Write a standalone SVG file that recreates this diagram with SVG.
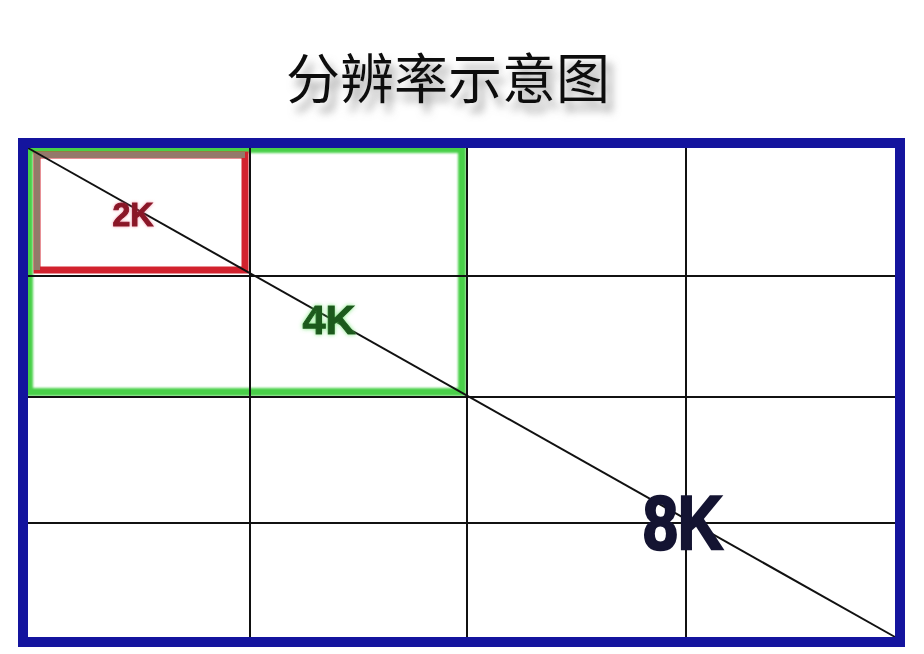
<svg xmlns="http://www.w3.org/2000/svg" width="924" height="654" viewBox="0 0 924 654">
<style>
.grid{stroke:#111;stroke-width:2;fill:none}
.lbl{font-family:"Liberation Sans",Arial,sans-serif;font-weight:bold;text-anchor:middle}
.title{font-family:"Noto Sans CJK SC","Noto Sans",sans-serif;font-size:54px;text-anchor:middle}
</style>
<defs>
<filter id="tshadow" x="-10%" y="-30%" width="120%" height="180%">
<feGaussianBlur in="SourceAlpha" stdDeviation="4" result="b"/>
<feOffset in="b" dx="6" dy="9" result="o"/>
<feFlood flood-color="#777" flood-opacity="0.7"/>
<feComposite in2="o" operator="in" result="s"/>
<feMerge><feMergeNode in="s"/><feMergeNode in="SourceGraphic"/></feMerge>
</filter>
<filter id="glowR" x="-20%" y="-20%" width="140%" height="140%">
<feGaussianBlur in="SourceAlpha" stdDeviation="1.5" result="b"/>
<feFlood flood-color="#e8506a" flood-opacity="0.6"/>
<feComposite in2="b" operator="in" result="g"/>
<feMerge><feMergeNode in="g"/><feMergeNode in="SourceGraphic"/></feMerge>
</filter>
<filter id="glowG" x="-20%" y="-20%" width="140%" height="140%">
<feGaussianBlur in="SourceAlpha" stdDeviation="2" result="b"/>
<feFlood flood-color="#5ee05e" flood-opacity="0.8"/>
<feComposite in2="b" operator="in" result="g"/>
<feMerge><feMergeNode in="g"/><feMergeNode in="SourceGraphic"/></feMerge>
</filter>
<filter id="soft" x="-5%" y="-5%" width="110%" height="110%">
<feGaussianBlur stdDeviation="0.8"/>
</filter>
</defs>
<rect width="924" height="654" fill="#ffffff"/>
<text class="title" x="448" y="99" fill="#111" filter="url(#tshadow)">分辨率示意图</text>

<g id="k4" filter="url(#soft)">
<rect x="29" y="149" width="433" height="243" fill="none" stroke="#48d048" stroke-width="8"/>
</g>
<g id="k2">
<rect x="37" y="155" width="208" height="115" fill="none" stroke="#d2222e" stroke-width="7"/>
<polyline points="37,270 37,155 245,155" fill="none" stroke="#94796a" stroke-width="6"/>
</g>

<g id="connectors">
<line class="grid" x1="250" y1="143" x2="250" y2="642"/>
<line class="grid" x1="467" y1="143" x2="467" y2="642"/>
<line class="grid" x1="686" y1="143" x2="686" y2="642"/>
<line class="grid" x1="23" y1="276" x2="900" y2="276"/>
<line class="grid" x1="23" y1="397" x2="900" y2="397"/>
<line class="grid" x1="23" y1="523" x2="900" y2="523"/>
<line class="grid" x1="28" y1="148" x2="895" y2="637"/>
</g>

<g id="k8">
<rect x="23" y="143" width="877" height="499" fill="none" stroke="#14149e" stroke-width="10"/>
</g>

<text class="lbl" x="133" y="226" font-size="34" fill="#8a1428" stroke="#8a1428" stroke-width="1" textLength="41" lengthAdjust="spacingAndGlyphs" filter="url(#glowR)">2K</text>
<text class="lbl" x="329" y="334" font-size="40" fill="#1f5a1f" stroke="#1f5a1f" stroke-width="1" textLength="53" lengthAdjust="spacingAndGlyphs" filter="url(#glowG)">4K</text>
<text class="lbl" x="683" y="549" font-size="76" fill="#141432" stroke="#141432" stroke-width="2.5" textLength="80" lengthAdjust="spacingAndGlyphs">8K</text>
</svg>
